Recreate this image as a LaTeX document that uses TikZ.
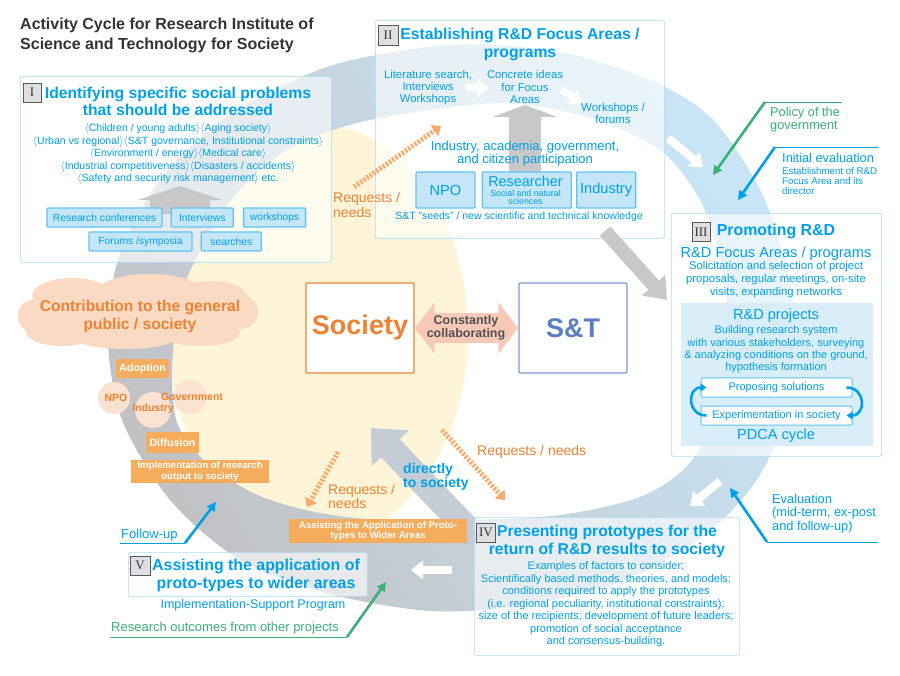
\documentclass[tikz,border=0pt]{standalone}
\usepackage{fontspec}
\setmainfont{Liberation Sans}
\newfontfamily\romanfont{Liberation Serif}
\usepackage{xcolor}
\usetikzlibrary{arrows.meta,positioning}

\newcommand\fs[2]{\fontsize{#1}{#2}\selectfont}
\newcommand\ang[1]{$\langle$#1$\rangle$}

\definecolor{skyb}{RGB}{0,160,230}
\definecolor{tagfill}{RGB}{196,230,248}
\definecolor{tagline}{RGB}{95,195,240}
\definecolor{panline}{RGB}{170,218,243}
\definecolor{ringgray}{RGB}{194,194,197}
\definecolor{ringblue}{RGB}{200,229,247}
\definecolor{sunny}{RGB}{254,245,216}
\definecolor{orng}{RGB}{238,130,50}
\definecolor{oboxfill}{RGB}{245,172,92}
\definecolor{peach}{RGB}{250,218,195}
\definecolor{peachlt}{RGB}{251,226,208}
\definecolor{reqor}{RGB}{246,170,108}
\definecolor{leaf}{RGB}{58,176,120}
\definecolor{stline}{RGB}{125,152,208}
\definecolor{sttext}{RGB}{90,125,196}
\definecolor{pinkarr}{RGB}{248,200,184}
\definecolor{greyarr}{RGB}{200,200,200}
\definecolor{dirarr}{RGB}{196,204,214}
\definecolor{inkdark}{RGB}{51,51,51}
\definecolor{innerfill}{RGB}{212,236,249}

\begin{document}
\begin{tikzpicture}[x=1pt,y=-1pt,
	panel/.style={draw=panline,line width=.7pt,fill=white,fill opacity=.6,text opacity=1,rounded corners=1.5pt,anchor=north west,inner sep=0pt},
	tag/.style={draw=tagline,fill=tagfill,line width=1.3pt,text=skyb,font=\fs{10.3}{12},minimum height=19pt,inner sep=1pt,rounded corners=1pt},
	actor/.style={draw=tagline,fill=tagfill,line width=1.3pt,text=skyb,font=\fs{14.6}{15},minimum height=36pt,inner sep=1pt,rounded corners=1pt},
	pdcabox/.style={draw=tagline,fill=white,line width=1pt,text=skyb,font=\fs{11}{12},minimum width=151pt,minimum height=19pt,inner sep=1pt,rounded corners=1pt},
	numbox/.style={draw=gray!70!black,fill=gray!25,line width=.6pt,font=\romanfont\fs{13}{13},minimum width=18pt,minimum height=19pt,inner sep=0pt,text=inkdark},
	ttl/.style={text=skyb,font=\bfseries\fs{15.7}{17.5},align=center,inner sep=0pt},
	body/.style={text=skyb,font=\fs{11}{12.5},align=center,inner sep=0pt},
	obox/.style={fill=oboxfill,text=white,font=\bfseries\fs{10.6}{12},inner sep=1pt,align=center},
	puff/.style={circle,fill=peachlt,inner sep=0pt},
	otxt/.style={text=orng,font=\bfseries\fs{10.5}{11},inner sep=0pt},
	reqtxt/.style={text=orng,font=\fs{14}{15},inner sep=0pt,anchor=west,align=left},
	request/.style={draw=reqor,line width=5pt,dash pattern=on 2.2pt off 1.7pt,-{Triangle[width=13pt,length=8pt]}},
	whitearr/.style={draw=white,line width=8pt,-{Triangle[width=18pt,length=12pt]}},
	callg/.style={draw=leaf,line width=2.6pt,-{Triangle[width=9pt,length=9pt]}},
	callb/.style={draw=skyb,line width=2.6pt,-{Triangle[width=9pt,length=9pt]}},
	cyc/.style={draw=skyb,line width=2.6pt,-{Triangle[width=8pt,length=6pt]}},
	note/.style={anchor=west,align=left,inner sep=0pt}]
	\useasboundingbox (0,0) rectangle (900,676);
	% background: society area and the cycle band
	\fill[sunny] (318,333) ellipse [x radius=150, y radius=208];
	\shade[shading=axis,top color=ringblue,bottom color=ringgray,middle color=ringblue!55!ringgray,shading angle=-60,even odd rule]
		plot[smooth cycle] coordinates {(450,45) (560,52) (655,82) (715,122) (765,200) (793,300) (788,400) (760,475) (705,535) (620,582) (520,606) (430,611) (330,594) (240,560) (170,500) (122,420) (108,340) (118,260) (160,180) (230,115) (330,66)}
		plot[smooth cycle] coordinates {(500,103) (590,118) (660,150) (700,200) (722,265) (728,335) (718,410) (688,465) (640,497) (560,515) (470,520) (393,521) (320,513) (260,496) (210,466) (178,425) (172,370) (180,300) (198,255) (235,195) (290,148) (370,120)};
	% direction of the cycle
	\coordinate (w1a) at (668,138); \coordinate (w1b) at (703,167);
	\coordinate (w2a) at (720,481); \coordinate (w2b) at (690,506);
	\coordinate (w3a) at (452,570); \coordinate (w3b) at (411,570);
	\draw[whitearr] (w1a) -- (w1b);
	\draw[whitearr] (w2a) -- (w2b);
	\draw[whitearr] (w3a) -- (w3b);
	\coordinate (dirA) at (480,542); \coordinate (dirB) at (371,428);
	\draw[dirarr,line width=26pt,-{Triangle[width=50pt,length=28pt]}] (dirA) -- (dirB);
	% panels
	\node[panel,minimum width=311pt,minimum height=186pt] (pI) at (20,76) {};
	\node[panel,minimum width=289pt,minimum height=218pt] (pII) at (375,20) {};
	\node[panel,minimum width=210pt,minimum height=243pt] (pIII) at (671,213) {};
	\node[panel,minimum width=265pt,minimum height=138pt] (pIV) at (474,517) {};
	\node[panel,minimum width=239pt,minimum height=44pt] (pV) at (128,552) {};
	\node[fill=innerfill,fill opacity=.85,anchor=north west,minimum width=192pt,minimum height=143pt,inner sep=0pt] (rdbox) at (681,303) {};
	% title
	\node[note,text=inkdark,font=\bfseries\fs{16}{20}] (title) at (20,35) {Activity Cycle for Research Institute of\\Science and Technology for Society};
	% I
	\coordinate (upIa) at (180,214); \coordinate (upIb) at (180,186);
	\draw[greyarr,line width=60pt,-{Triangle[width=84pt,length=14pt]}] (upIa) -- (upIb);
	\node[numbox] (nI) at (32,92.5) {I};
	\node[ttl] (tI) at (178,101.5) {Identifying specific social problems\\that should be addressed};
	\node[body,font=\fs{10.5}{12.5}] (issues) at (178,154) {\ang{Children / young adults}\ang{Aging society}\\\ang{Urban vs regional}\ang{S\&T governance, Institutional constraints}\\\ang{Environment / energy}\ang{Medical care}\\\ang{Industrial competitiveness}\ang{Disasters / accidents}\\\ang{Safety and security risk management} etc.};
	\node[tag,minimum width=115pt] (rconf) at (104.5,217.5) {Research conferences};
	\node[tag,minimum width=62pt,right=8pt of rconf] (intv) {Interviews};
	\node[tag,minimum width=62pt,right=9pt of intv] (wshop) {workshops};
	\node[tag,minimum width=103pt] (forum) at (140.5,241.5) {Forums /symposia};
	\node[tag,minimum width=60pt,right=8pt of forum] (srch) {searches};
	% II
	\coordinate (upIIa) at (525,172); \coordinate (upIIb) at (525,105);
	\draw[greyarr,line width=32pt,-{Triangle[width=64pt,length=12pt]}] (upIIa) -- (upIIb);
	\coordinate (w4a) at (466,88); \coordinate (w4b) at (489,88);
	\coordinate (w5a) at (561,90); \coordinate (w5b) at (583,103);
	\draw[whitearr,line width=7pt] (w4a) -- (w4b);
	\draw[whitearr,line width=7pt] (w5a) -- (w5b);
	\node[numbox,minimum width=20pt,minimum height=20pt] (nII) at (388,35) {II};
	\node[ttl] (tII) at (520,44.5) {Establishing R\&D Focus Areas /\\programs};
	\node[body,font=\fs{11.3}{12.2}] (litsrch) at (428,87.5) {Literature search,\\Interviews\\Workshops};
	\node[body,font=\fs{11.3}{12.2}] (ideas) at (525,87) {Concrete ideas\\for Focus\\Areas};
	\node[body,font=\fs{11.5}{11.5}] (wsforum) at (613,113.5) {Workshops /\\forums};
	\node[body,font=\fs{13}{13.5}] (icp) at (525,153.5) {Industry, academia, government,\\and citizen participation};
	\node[actor,minimum width=59pt] (npo) at (445.5,190) {NPO};
	\node[actor,minimum width=89pt,right=6pt of npo] (researcher) {};
	\node[actor,minimum width=59pt,right=4pt of researcher] (industry) {Industry};
	\node[text=skyb,font=\fs{14.4}{15},inner sep=0pt] (rlabel) at (525.5,181.5) {Researcher};
	\node[body,font=\fs{8.8}{8.4}] (rfields) at (525.5,197.5) {Social and natural\\sciences};
	\node[body,font=\fs{10.5}{12}] (seeds) at (519,217) {S\&T "seeds" / new scientific and technical knowledge};
	\coordinate (gA) at (605,231); \coordinate (gB) at (667,300);
	\draw[greyarr,line width=14pt,-{Triangle[width=30pt,length=20pt]}] (gA) -- (gB);
	% III
	\node[numbox] (nIII) at (701,232) {III};
	\node[text=skyb,font=\bfseries\fs{15.9}{16},inner sep=0pt] (tIII) at (776,231) {Promoting R\&D};
	\node[body,font=\fs{14.6}{15}] (focus) at (776,254) {R\&D Focus Areas / programs};
	\node[body,font=\fs{11.3}{13}] (solicit) at (776,280) {Solicitation and selection of project\\proposals, regular meetings, on-site\\visits, expanding networks};
	\node[body,font=\fs{14.6}{15}] (rdproj) at (776,316) {R\&D projects};
	\node[body,font=\fs{11}{12.4}] (building) at (776,349.5) {Building research system\\with various stakeholders, surveying\\\& analyzing conditions on the ground,\\hypothesis formation};
	\node[pdcabox] (prop) at (776.5,387.5) {Proposing solutions};
	\node[pdcabox,below=8pt of prop] (exp) {Experimentation in society};
	\draw[cyc] ([xshift=6pt]exp.west) to[out=180,in=180,looseness=1.8] ([xshift=6pt]prop.west);
	\draw[cyc] ([xshift=-6pt]prop.east) to[out=0,in=0,looseness=1.8] ([xshift=-6pt]exp.east);
	\node[body,font=\fs{14.6}{15}] (pdca) at (776,436) {PDCA cycle};
	% IV
	\node[numbox,minimum width=19pt] (nIV) at (486,532.5) {IV};
	\node[ttl] (tIV) at (607,541.5) {Presenting prototypes for the\\return of R\&D results to society};
	\node[body,font=\fs{11}{12.5}] (factors) at (606,604.5) {Examples of factors to consider:\\Scientifically based methods, theories, and models;\\conditions required to apply the prototypes\\(i.e. regional peculiarity, institutional constraints);\\size of the recipients; development of future leaders;\\promotion of social acceptance\\and consensus-building.};
	% V
	\node[numbox,minimum width=20pt] (nV) at (140,565.5) {V};
	\node[ttl,font=\bfseries\fs{15.9}{18}] (tV) at (256,575) {Assisting the application of\\proto-types to wider areas};
	\node[body,font=\fs{12.5}{13}] (isp) at (253,605) {Implementation-Support Program};
	% callouts
	\coordinate (polA) at (842,102); \coordinate (polB) at (765,102); \coordinate (polT) at (713,175);
	\draw[leaf,line width=.9pt] (polA) -- (polB);
	\draw[callg] (polB) -- (polT);
	\node[note,text=leaf,font=\fs{12.8}{13}] (policy) at (770,119.5) {Policy of the\\government};
	\coordinate (iniA) at (878,147); \coordinate (iniB) at (775,147); \coordinate (iniT) at (738,200);
	\draw[skyb,line width=.9pt] (iniA) -- (iniB);
	\draw[callb] (iniB) -- (iniT);
	\node[note,text=skyb,font=\fs{12.8}{13}] (initev) at (782,158) {Initial evaluation};
	\node[note,text=skyb,font=\fs{9.7}{10}] (initsub) at (782,181.5) {Establishment of R\&D\\Focus Area and its\\director};
	\coordinate (evA) at (878,542); \coordinate (evB) at (767,542); \coordinate (evT) at (730,488);
	\draw[skyb,line width=.9pt] (evA) -- (evB);
	\draw[callb] (evB) -- (evT);
	\node[note,text=skyb,font=\fs{12.8}{13.5}] (evaluation) at (772,513.5) {Evaluation\\(mid-term, ex-post\\and follow-up)};
	\coordinate (fuA) at (120,543); \coordinate (fuB) at (185,543); \coordinate (fuT) at (216,502);
	\draw[skyb,line width=.9pt] (fuA) -- (fuB);
	\draw[callb] (fuB) -- (fuT);
	\node[note,text=skyb,font=\fs{13}{13}] (followup) at (121,535) {Follow-up};
	\coordinate (roA) at (110,637); \coordinate (roB) at (347,637); \coordinate (roT) at (386,582);
	\draw[leaf,line width=.9pt] (roA) -- (roB);
	\draw[callg] (roB) -- (roT);
	\node[note,text=leaf,font=\fs{13}{13}] (outcomes) at (111,628) {Research outcomes from other projects};
	% contribution to society
	\fill[peach] (139,314) ellipse [x radius=108, y radius=27]
		(72,296) ellipse [x radius=40, y radius=18]
		(150,291) ellipse [x radius=52, y radius=17]
		(212,298) ellipse [x radius=36, y radius=17]
		(240,312) ellipse [x radius=18, y radius=17]
		(32,316) ellipse [x radius=14, y radius=16]
		(62,332) ellipse [x radius=36, y radius=14]
		(125,337) ellipse [x radius=52, y radius=12]
		(200,333) ellipse [x radius=40, y radius=13];
	\node[text=orng,font=\bfseries\fs{15.6}{18},align=center,inner sep=0pt] (contrib) at (140,316) {Contribution to the general\\public / society};
	\node[obox,minimum width=53pt,minimum height=19pt] (adopt) at (142.5,368.5) {Adoption};
	\node[puff,minimum size=32pt] (cNPO) at (114,398) {};
	\node[puff,minimum size=34pt] (cGov) at (190,397) {};
	\node[puff,minimum size=36pt] (cInd) at (153,410) {};
	\node[otxt] (tNPO) at (116,398) {NPO};
	\node[otxt] (tGov) at (192,397) {Government};
	\node[otxt] (tInd) at (153,409) {Industry};
	\node[obox,minimum width=53pt,minimum height=21pt] (diffuse) at (172.5,442.5) {Diffusion};
	\node[obox,font=\bfseries\fs{9.6}{10.5},minimum width=138pt,minimum height=23pt] (implement) at (200,471.5) {Implementation of research\\output to society};
	\node[obox,font=\bfseries\fs{9.6}{10},minimum width=178pt,minimum height=24pt] (assistbox) at (378,531) {Assisting the Application of Proto-\\types to Wider Areas};
	% society and S&T
	\node[draw=orng,line width=1.2pt,fill=white,minimum width=108pt,minimum height=90pt,text=orng,font=\bfseries\fs{27}{27},rounded corners=1pt] (soc) at (360,328) {Society};
	\node[draw=stline,line width=1.2pt,fill=white,minimum width=108pt,minimum height=90pt,text=sttext,font=\bfseries\fs{27}{27},rounded corners=1pt] (st) at (573,328) {S\&T};
	\draw[pinkarr,line width=30pt,{Triangle[width=50pt,length=20pt]}-{Triangle[width=50pt,length=20pt]}] (soc.east) -- (st.west);
	\node[text=inkdark!85,font=\bfseries\fs{12.5}{13},align=center,inner sep=0pt] (collab) at (466,328) {Constantly\\collaborating};
	% requests / needs
	\coordinate (rqA1) at (354,187); \coordinate (rqA2) at (441,126);
	\coordinate (rqB1) at (442,430); \coordinate (rqB2) at (505,500);
	\coordinate (rqC1) at (338,452); \coordinate (rqC2) at (307,507);
	\draw[request] (rqA1) -- (rqA2);
	\draw[request] (rqB1) -- (rqB2);
	\draw[request] (rqC1) -- (rqC2);
	\node[reqtxt] (reqA) at (333,204.5) {Requests /\\needs};
	\node[reqtxt] (reqB) at (477,452) {Requests / needs};
	\node[reqtxt,font=\fs{14}{13.5}] (reqC) at (328,496.5) {Requests /\\needs};
	\node[note,text=skyb,font=\bfseries\fs{14}{14}] (direct) at (403,477) {directly\\to society};
\end{tikzpicture}
\end{document}
